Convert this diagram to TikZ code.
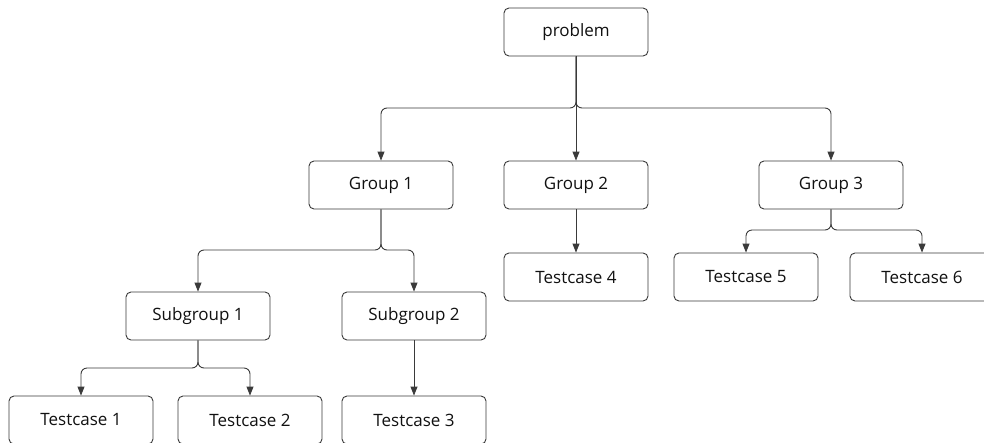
\documentclass[tikz,border=0pt]{standalone}
\usepackage{fontspec}
\setmainfont{Open Sans}
\usetikzlibrary{arrows.meta}
\definecolor{linec}{HTML}{3A3A3A}
\definecolor{textc}{HTML}{111111}
\begin{document}
\begin{tikzpicture}[x=1pt,y=-1pt,
  box/.style={draw=linec,line width=0.9pt,rounded corners=5pt,minimum width=144pt,minimum height=48pt,inner sep=0pt,text=textc,font=\fontsize{17}{20}\selectfont},
  conn/.style={draw=linec,line width=0.9pt,rounded corners=6pt,-{Triangle[length=9pt,width=7pt]}}]
\useasboundingbox[fill=white] (0,0) rectangle (984,442);
\node[box] (p) at (576,32) {problem};
\node[box] (g1) at (381,185) {Group 1};
\node[box] (g2) at (576,185) {Group 2};
\node[box] (g3) at (831,185) {Group 3};
\node[box] (t4) at (576,277) {Testcase 4};
\node[box] (t5) at (746,277) {Testcase 5};
\node[box] (t6) at (922,277) {Testcase 6};
\node[box] (s1) at (198,316) {Subgroup 1};
\node[box] (s2) at (414,316) {Subgroup 2};
\node[box] (t1) at (81,420) {Testcase 1};
\node[box] (t2) at (250,420) {Testcase 2};
\node[box] (t3) at (414,420) {Testcase 3};
\draw[conn] (p.south) -- (p.south |- 0,108) -| (g1.north);
\draw[conn] (p.south) -- (g2.north);
\draw[conn] (p.south) -- (p.south |- 0,108) -| (g3.north);
\draw[conn] (g1.south) -- (g1.south |- 0,250) -| (s1.north);
\draw[conn] (g1.south) -- (g1.south |- 0,250) -| (s2.north);
\draw[conn] (g2.south) -- (t4.north);
\draw[conn] (g3.south) -- (g3.south |- 0,230) -| (t5.north);
\draw[conn] (g3.south) -- (g3.south |- 0,230) -| (t6.north);
\draw[conn] (s1.south) -- (s1.south |- 0,368) -| (t1.north);
\draw[conn] (s1.south) -- (s1.south |- 0,368) -| (t2.north);
\draw[conn] (s2.south) -- (t3.north);
\end{tikzpicture}
\end{document}
